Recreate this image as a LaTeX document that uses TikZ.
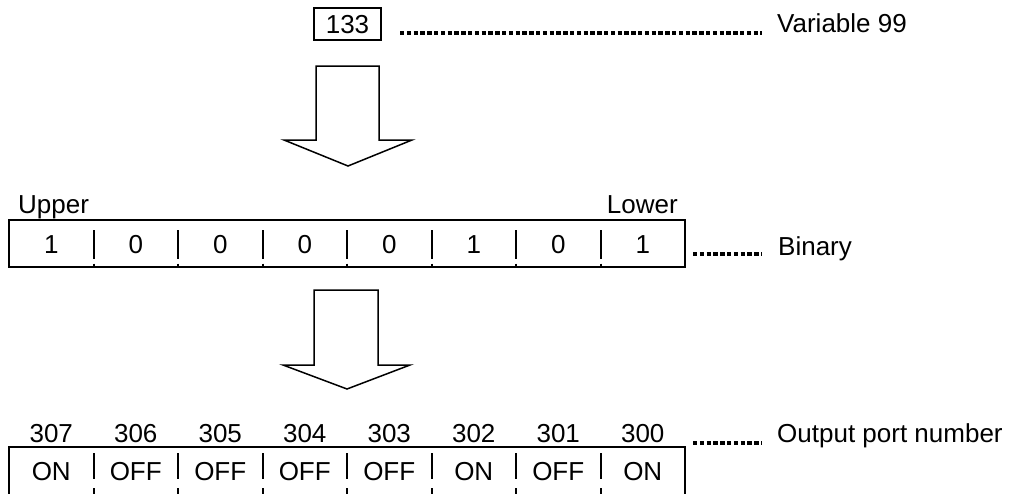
\documentclass[tikz,border=0pt]{standalone}
\usepackage{fontspec}
\setmainfont{Liberation Sans}
\begin{document}
\begin{tikzpicture}[x=1pt,y=-1pt,
  txt/.style={inner sep=0pt,font=\fontsize{26}{30}\selectfont},
  boxline/.style={line width=2pt},
  divider/.style={line width=2pt},
  fatarrow/.style={line width=1.5pt,line join=miter},
  leader/.style={line width=3.5pt,dash pattern=on 4.3pt off 2.5pt}]
\useasboundingbox (0,0) rectangle (1010,493);

% top value
\node[draw,boxline,minimum width=67pt,minimum height=32pt,inner sep=0pt] (val) at (347.5,24) {};
\node[txt,anchor=base] (valt) at (347.5,33) {133};
\coordinate (v1) at (400,33);
\coordinate (v2) at (762,33);
\draw[leader] (v1) -- (v2);
\node[txt,anchor=base west] (var) at (777,32) {Variable 99};

% arrow 1
\draw[fatarrow] (316,66) -- (379,66) -- (379,140) -- (412,140) -- (348,166) -- (284,140) -- (316,140) -- cycle;

% binary row
\node[txt,anchor=base west] (upper) at (18,213) {Upper};
\node[txt,anchor=base east] (lower) at (678,213) {Lower};
\draw[boxline] (9,219.5) rectangle (685,266.5);
\coordinate (bin) at (685,243);
\foreach \k in {1,...,7}{
  \draw[divider] ({9+84.5*\k},230) -- ({9+84.5*\k},259);
  \draw[divider] ({9+84.5*\k},263.5) -- ({9+84.5*\k},266.5);
}
\foreach \b [count=\i from 0] in {1,0,0,0,0,1,0,1}{
  \node[txt,anchor=base] (b\i) at ({9+84.5*(\i+0.5)},253) {\b};
}
\coordinate (l1) at (693,254);
\coordinate (l2) at (762,254);
\draw[leader] (l1) -- (l2);
\node[txt,anchor=base west] (binary) at (778,255) {Binary};

% arrow 2
\draw[fatarrow] (314,290) -- (378,290) -- (378,365) -- (410,365) -- (347,389) -- (283,365) -- (314,365) -- cycle;

% output row
\foreach \n [count=\i from 0] in {307,306,305,304,303,302,301,300}{
  \node[txt,anchor=base] (p\i) at ({9+84.5*(\i+0.5)},442) {\n};
}
\foreach \s [count=\i from 0] in {ON,OFF,OFF,OFF,OFF,ON,OFF,ON}{
  \node[txt,anchor=base] (s\i) at ({9+84.5*(\i+0.5)},480) {\s};
}
\draw[boxline] (9,500) -- (9,447) -- (684.5,447) -- (684.5,500);
\foreach \k in {1,...,7}{
  \draw[divider] ({9+84.5*\k},453) -- ({9+84.5*\k},479);
  \draw[divider] ({9+84.5*\k},488) -- ({9+84.5*\k},500);
}
\coordinate (o1) at (693,443);
\coordinate (o2) at (762,443);
\draw[leader] (o1) -- (o2);
\node[txt,anchor=base west] (outp) at (777,442) {Output port number};
\end{tikzpicture}
\end{document}
